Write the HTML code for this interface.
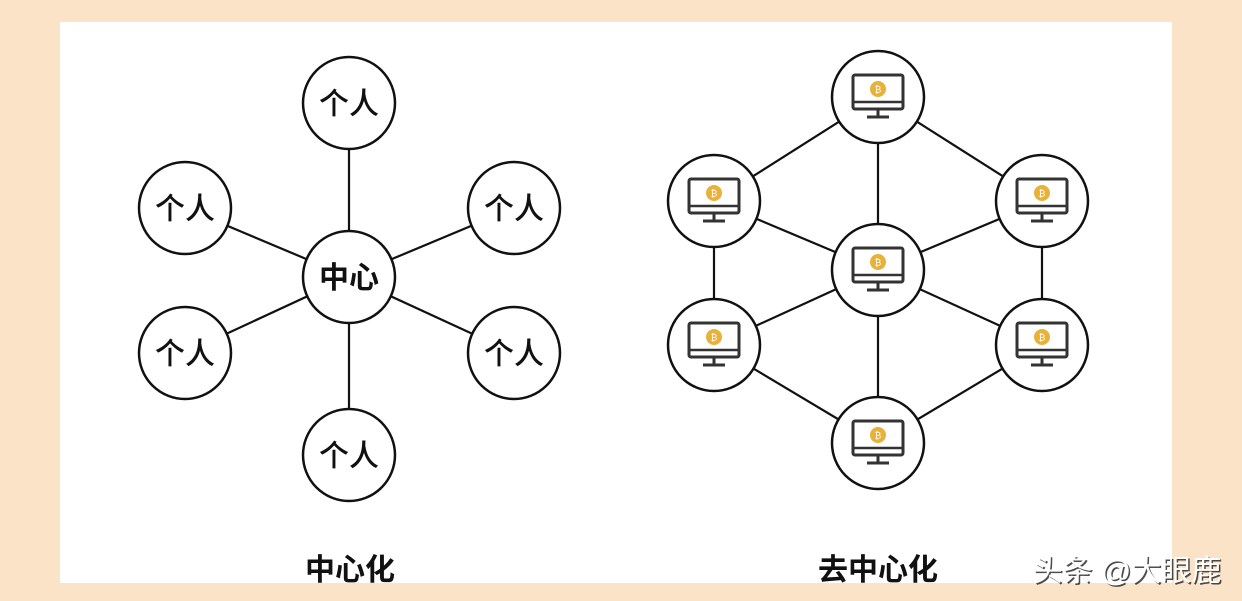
<!DOCTYPE html>
<html><head><meta charset="utf-8"><style>
html,body{margin:0;padding:0;width:1242px;height:601px;overflow:hidden;background:#fbe3c7;}
svg{display:block}
</style></head><body>
<svg width="1242" height="601" viewBox="0 0 1242 601" xmlns="http://www.w3.org/2000/svg">
<defs>
<g id="pc">
<rect x="-25" y="-22" width="50" height="34" rx="2" fill="none" stroke="#333" stroke-width="3"/>
<line x1="-25" y1="5" x2="25" y2="5" stroke="#333" stroke-width="2.5"/>
<circle cx="0" cy="-8" r="8" fill="#e8b23a"/>
<text x="0" y="-4.5" font-size="9" text-anchor="middle" fill="#fff" font-family="Liberation Sans,sans-serif">₿</text>
<line x1="0" y1="12" x2="0" y2="19" stroke="#333" stroke-width="3"/>
<line x1="-11" y1="20" x2="11" y2="20" stroke="#333" stroke-width="3"/>
</g>
</defs>
<rect x="60" y="22" width="1112" height="561" fill="#fff"/>
<g stroke="#111" stroke-width="2.2" fill="none">
<line x1="349" y1="277" x2="349" y2="103"/>
<line x1="349" y1="277" x2="349" y2="455"/>
<line x1="349" y1="277" x2="185" y2="208"/>
<line x1="349" y1="277" x2="514" y2="208"/>
<line x1="349" y1="277" x2="185" y2="353"/>
<line x1="349" y1="277" x2="514" y2="353"/>
<line x1="878" y1="97" x2="714" y2="201"/>
<line x1="878" y1="97" x2="1042" y2="201"/>
<line x1="878" y1="97" x2="878" y2="270"/>
<line x1="714" y1="201" x2="714" y2="345"/>
<line x1="1042" y1="201" x2="1042" y2="345"/>
<line x1="714" y1="201" x2="878" y2="270"/>
<line x1="714" y1="345" x2="878" y2="270"/>
<line x1="1042" y1="201" x2="878" y2="270"/>
<line x1="1042" y1="345" x2="878" y2="270"/>
<line x1="878" y1="270" x2="878" y2="443"/>
<line x1="714" y1="345" x2="878" y2="443"/>
<line x1="1042" y1="345" x2="878" y2="443"/>
</g>
<g stroke="#111" stroke-width="2.5" fill="#fff">
<circle cx="349" cy="103" r="46"/><circle cx="349" cy="455" r="46"/>
<circle cx="185" cy="208" r="46"/><circle cx="514" cy="208" r="46"/>
<circle cx="185" cy="353" r="46"/><circle cx="514" cy="353" r="46"/>
<circle cx="349" cy="277" r="46"/>
<circle cx="878" cy="97" r="46"/><circle cx="714" cy="201" r="46"/>
<circle cx="1042" cy="201" r="46"/><circle cx="878" cy="270" r="46"/>
<circle cx="714" cy="345" r="46"/><circle cx="1042" cy="345" r="46"/>
<circle cx="878" cy="443" r="46"/>
</g>
<g font-family="Liberation Sans,'Noto Sans CJK SC',sans-serif" font-size="30" text-anchor="middle" fill="#111" font-weight="500">
<text x="349" y="114">个人</text><text x="349" y="466">个人</text>
<text x="185" y="219">个人</text><text x="514" y="219">个人</text>
<text x="185" y="364">个人</text><text x="514" y="364">个人</text>
<text x="349" y="288" font-weight="bold">中心</text>
<text x="350" y="580" font-weight="bold" font-size="30">中心化</text>
<text x="878" y="580" font-weight="bold" font-size="30">去中心化</text>
</g>
<use href="#pc" x="878" y="97"/><use href="#pc" x="714" y="201"/>
<use href="#pc" x="1042" y="201"/><use href="#pc" x="878" y="270"/>
<use href="#pc" x="714" y="345"/><use href="#pc" x="1042" y="345"/>
<use href="#pc" x="878" y="443"/>
<text x="1127" y="581" font-family="Liberation Sans,'Noto Sans CJK SC',sans-serif" font-size="30" text-anchor="middle" fill="#222" opacity="0.8" transform="translate(1.5,1.5)">头条 @大眼鹿</text>
<text x="1127" y="581" font-family="Liberation Sans,'Noto Sans CJK SC',sans-serif" font-size="30" text-anchor="middle" fill="#fff">头条 @大眼鹿</text>
</svg>
</body></html>
